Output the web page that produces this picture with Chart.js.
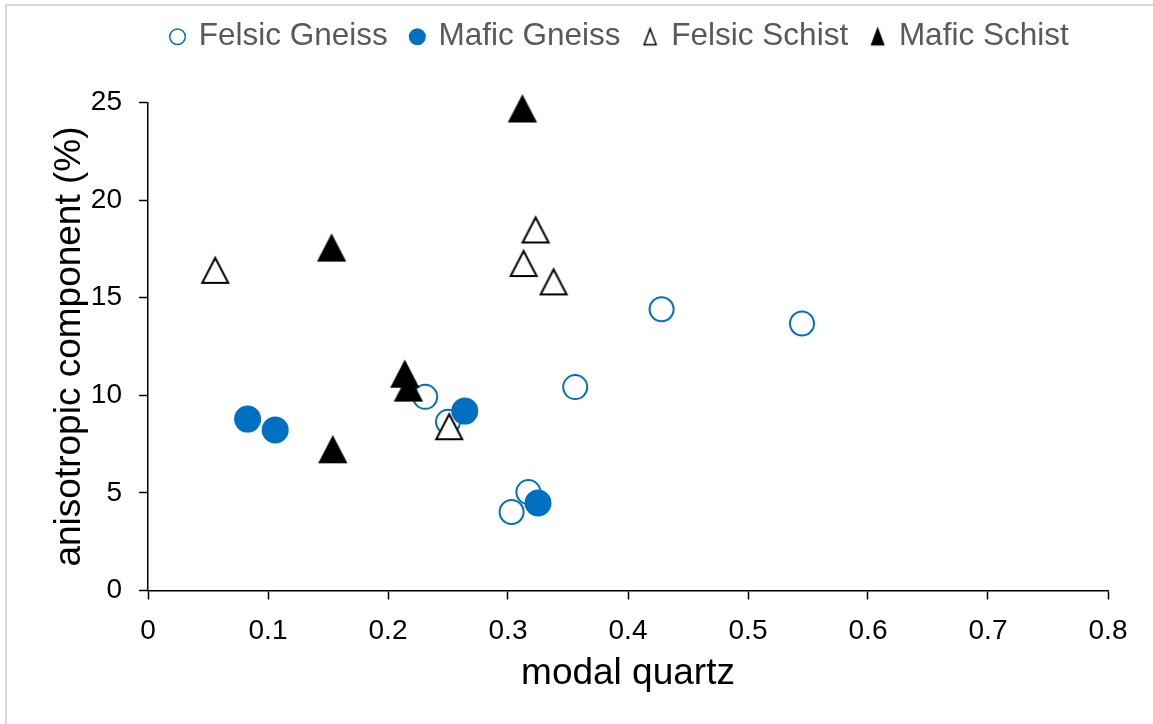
<!DOCTYPE html>
<html lang="en">
<head>
    <meta charset="UTF-8">
    <title>Anisotropic component vs modal quartz</title>
    <script src="https://cdn.jsdelivr.net/npm/chart.js"></script>
    <style>
        html, body { margin: 0; padding: 0; background: #fff; }
        #chart { display: block; }
    </style>
</head>
<body>
    <canvas id="chart" width="1153" height="724"></canvas>
    <script>
        // values
        const seriesNames = ['Felsic Gneiss', 'Mafic Gneiss', 'Felsic Schist', 'Mafic Schist'];

        const felsicGneissX = [0.231, 0.250, 0.317, 0.303, 0.356, 0.428, 0.545];
        const felsicGneissY = [9.92, 8.64, 5.04, 4.02, 10.42, 14.41, 13.68];

        const maficGneissX = [0.083, 0.106, 0.264, 0.325];
        const maficGneissY = [8.78, 8.22, 9.19, 4.48];

        const felsicSchistX = [0.056, 0.251, 0.323, 0.313, 0.338];
        const felsicSchistY = [16.40, 8.39, 18.47, 16.75, 15.81];

        const maficSchistX = [0.312, 0.153, 0.154, 0.214, 0.217];
        const maficSchistY = [24.67, 17.54, 7.21, 11.08, 10.37];

        const xTicks = [0, 0.1, 0.2, 0.3, 0.4, 0.5, 0.6, 0.7, 0.8];
        const yTicks = [0, 5, 10, 15, 20, 25];

        const BLUE = '#0070C0';
        const FONT = "'Liberation Sans', Arial, sans-serif";

        const toPoints = (xs, ys) => xs.map((x, i) => ({ x, y: ys[i] }));

        // triangle marker centred on its bounding box (like the Excel marker)
        const triangleImage = (w, h, fill, stroke, lw) => {
            const c = document.createElement('canvas');
            c.width = w;
            c.height = h;
            const ctx = c.getContext('2d');
            const m = lw + 1;
            ctx.beginPath();
            ctx.moveTo(w / 2, m);
            ctx.lineTo(w - m, h - m);
            ctx.lineTo(m, h - m);
            ctx.closePath();
            ctx.fillStyle = fill;
            ctx.fill();
            ctx.lineWidth = lw;
            ctx.strokeStyle = stroke;
            ctx.stroke();
            return c;
        };

        const openTri = triangleImage(32, 31, '#fff', '#000', 2);
        const solidTri = triangleImage(32, 31, '#000', '#000', 2);
        const openTriSmall = triangleImage(17, 21, '#fff', '#000', 1.5);
        const solidTriSmall = triangleImage(17, 21, '#000', '#000', 1.5);

        // datasets listed top-most first (Chart.js paints dataset 0 last)
        const datasets = [
            {
                label: seriesNames[3],
                data: toPoints(maficSchistX, maficSchistY),
                pointStyle: solidTri,
                backgroundColor: '#000',
                borderColor: '#000'
            },
            {
                label: seriesNames[2],
                data: toPoints(felsicSchistX, felsicSchistY),
                pointStyle: openTri,
                backgroundColor: '#fff',
                borderColor: '#000'
            },
            {
                label: seriesNames[1],
                data: toPoints(maficGneissX, maficGneissY),
                pointStyle: 'circle',
                pointRadius: 12.5,
                borderWidth: 2,
                backgroundColor: BLUE,
                borderColor: BLUE
            },
            {
                label: seriesNames[0],
                data: toPoints(felsicGneissX, felsicGneissY),
                pointStyle: 'circle',
                pointRadius: 12,
                borderWidth: 2,
                backgroundColor: '#fff',
                borderColor: BLUE
            }
        ];
        datasets.forEach(d => { d.clip = false; });

        const smallTri = { 'Felsic Schist': openTriSmall, 'Mafic Schist': solidTriSmall };

        // light frame line on the top and left edge
        const frame = {
            id: 'frame',
            beforeDraw(chart) {
                const ctx = chart.ctx;
                ctx.save();
                ctx.fillStyle = '#fff';
                ctx.fillRect(0, 0, chart.width, chart.height);
                ctx.strokeStyle = '#d9d9d9';
                ctx.lineWidth = 2;
                ctx.beginPath();
                ctx.moveTo(6, chart.height);
                ctx.lineTo(6, 5);
                ctx.lineTo(chart.width, 5);
                ctx.stroke();
                ctx.restore();
            }
        };

        // extra room between legend and plot
        const legendGap = {
            id: 'legendGap',
            beforeInit(chart) {
                const fit = chart.legend.fit;
                chart.legend.fit = function () {
                    fit.call(this);
                    this.height += 40;
                };
            }
        };

        new Chart(document.getElementById('chart'), {
            type: 'scatter',
            data: { datasets },
            options: {
                responsive: false,
                animation: false,
                devicePixelRatio: 1,
                layout: { padding: { top: -3, right: 45, bottom: 0, left: 0 } },
                elements: {
                    point: { radius: 16, borderWidth: 2, hoverRadius: 16 }
                },
                plugins: {
                    tooltip: { enabled: false },
                    legend: {
                        position: 'top',
                        fullSize: false,
                        align: 'start',
                        reverse: true,
                        labels: {
                            usePointStyle: true,
                            boxWidth: 11,
                            boxHeight: 11,
                            padding: 24,
                            color: '#595959',
                            font: { family: FONT, size: 31.5 },
                            generateLabels(chart) {
                                const items = Chart.defaults.plugins.legend.labels.generateLabels(chart);
                                items.forEach(it => {
                                    if (smallTri[it.text]) it.pointStyle = smallTri[it.text];
                                    it.lineWidth = 1.5;
                                });
                                return items;
                            }
                        }
                    }
                },
                scales: {
                    x: {
                        type: 'linear',
                        min: xTicks[0],
                        max: xTicks[xTicks.length - 1],
                        afterFit(scale) { scale.height = 133.5; },
                        afterBuildTicks(scale) { scale.ticks = xTicks.map(v => ({ value: v })); },
                        border: { color: '#000', width: 1.5 },
                        grid: { drawOnChartArea: false, drawTicks: true, tickLength: 9, tickColor: '#000', tickWidth: 1.5 },
                        ticks: {
                            padding: 15,
                            color: '#000',
                            font: { family: FONT, size: 28 },
                            callback: v => String(Math.round(v * 10) / 10)
                        },
                        title: {
                            display: true,
                            text: 'modal quartz',
                            color: '#000',
                            font: { family: FONT, size: 37, lineHeight: 1.2 },
                            padding: { top: 0, bottom: 28 }
                        }
                    },
                    y: {
                        type: 'linear',
                        min: yTicks[0],
                        max: yTicks[yTicks.length - 1],
                        afterFit(scale) { scale.width = 148; },
                        afterBuildTicks(scale) { scale.ticks = yTicks.map(v => ({ value: v })); },
                        border: { color: '#000', width: 1.5 },
                        grid: { drawOnChartArea: false, drawTicks: true, tickLength: 9, tickColor: '#000', tickWidth: 1.5 },
                        ticks: {
                            padding: 17,
                            color: '#000',
                            font: { family: FONT, size: 28 }
                        },
                        title: {
                            display: true,
                            text: 'anisotropic component (%)',
                            color: '#000',
                            font: { family: FONT, size: 37, lineHeight: 1.2 },
                            padding: { top: 48, bottom: 0 }
                        }
                    }
                }
            },
            plugins: [frame, legendGap]
        });
    </script>
</body>
</html>
